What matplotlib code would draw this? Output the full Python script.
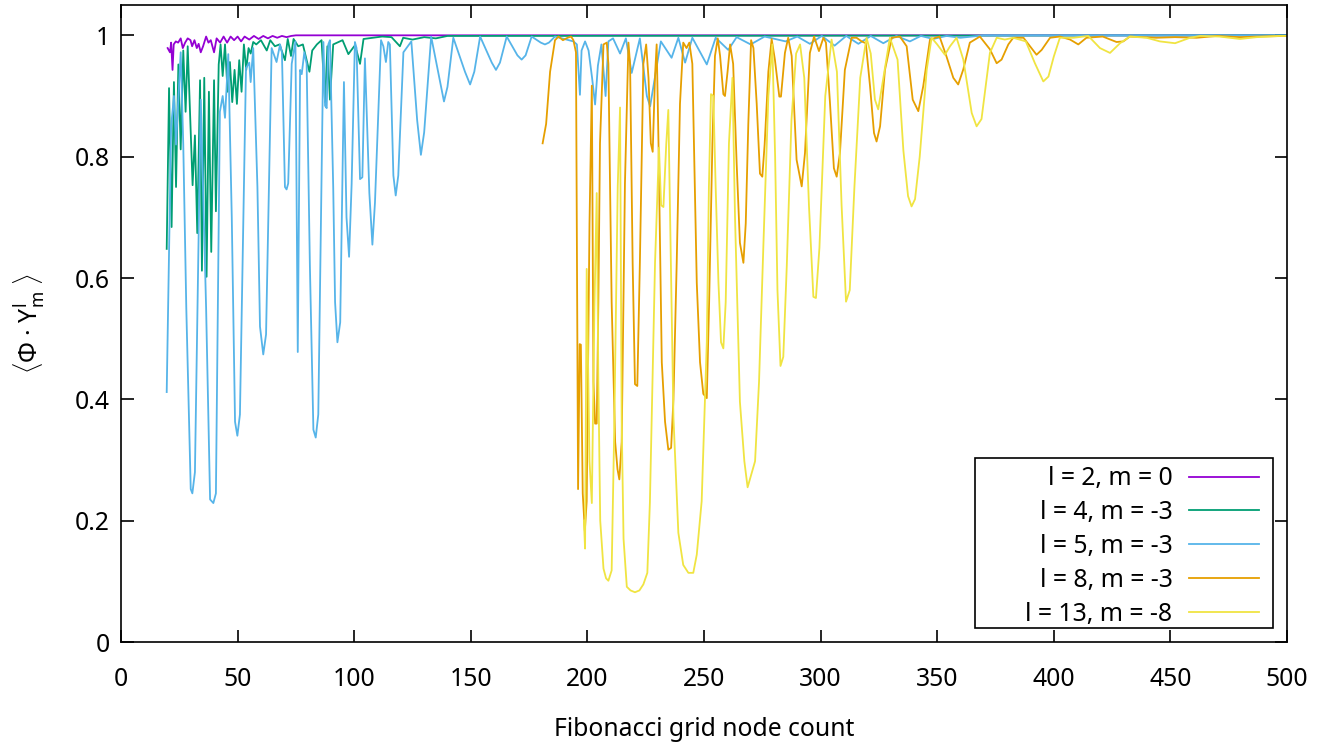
import matplotlib
matplotlib.use("Agg")
import matplotlib.pyplot as plt
from matplotlib.patches import Rectangle
import numpy as np

plt.rcParams['font.family'] = ['Noto Sans', 'DejaVu Sans']
plt.rcParams['mathtext.fontset'] = 'custom'
plt.rcParams['mathtext.rm'] = 'Noto Sans'
plt.rcParams['mathtext.fallback'] = 'cm'

# l = 2, m = 0
l2_x = [20, 21, 21.5, 22.1, 22.6, 23.5, 24.5, 25.6, 26.5, 27.5, 28.6, 29.8, 30.5, 31.5, 32.5, 33.3,
        34.2, 35.2, 36.5, 37.5, 38.5, 39.9, 41, 42.5, 44, 45.5, 47, 48.5, 50, 51.5, 53, 55, 57, 59,
        61, 63, 65, 67, 69, 71, 73, 75, 500]
l2_y = [0.979, 0.972, 0.988, 0.943, 0.985, 0.990, 0.988, 0.995, 0.979, 0.988, 0.995, 0.992, 0.982,
        0.992, 0.979, 0.986, 0.972, 0.982, 0.998, 0.988, 0.992, 0.972, 0.995, 0.988, 0.998, 0.988,
        0.998, 0.992, 0.998, 0.990, 0.998, 0.993, 0.999, 0.994, 0.999, 0.995, 0.999, 0.996, 0.999,
        0.997, 0.999, 1.0, 1.0]

# l = 4, m = -3
l4_x = [19.6, 20.6, 21.7, 22.7, 23.6, 24.6, 25.6, 26.7, 27.7, 28.6, 30.7, 31.7, 32.7, 33.9, 34.7,
        35.7, 36.7, 37.7, 38.7, 39.9, 40.7, 41.9, 42.7, 43.6, 44.6, 45.7, 46.7, 47.7, 48.7, 49.7,
        50.7, 51.7, 52.7, 53.7, 54.7, 55.6, 56.7, 58, 60, 62.5, 64, 66, 68, 70.3, 71.5, 72.9, 74,
        76, 78, 80.8, 82, 84, 86, 87.5, 88.5, 89.6, 91, 95, 97.5, 100, 101, 102.5, 104, 108, 112,
        116, 119.6, 121, 125, 130, 135, 140, 500]
l4_y = [0.648, 0.913, 0.684, 0.923, 0.750, 0.952, 0.812, 0.975, 0.874, 0.982, 0.753, 0.835, 0.674,
        0.926, 0.612, 0.930, 0.602, 0.907, 0.643, 0.926, 0.710, 0.952, 0.985, 0.933, 0.985, 0.907,
        0.956, 0.890, 0.943, 0.887, 0.959, 0.907, 0.985, 0.943, 0.979, 0.970, 0.989, 0.985, 0.992,
        0.975, 0.992, 0.982, 0.985, 0.959, 0.994, 0.966, 0.994, 0.982, 0.985, 0.940, 0.975, 0.985,
        0.992, 0.890, 0.982, 0.894, 0.985, 0.992, 0.969, 0.982, 0.975, 0.953, 0.994, 0.996, 0.998,
        0.997, 0.982, 0.996, 0.993, 0.997, 0.995, 0.999, 1.0]

# l = 5, m = -3
l5_x = [19.6, 20.5, 21.5, 22.7, 23.6, 25.6, 26.7, 28, 29.9, 30.6, 31.7, 34.2, 36.5, 38.2, 39.6,
        40.7, 42.4, 43.6, 44.6, 46, 47.5, 48.9, 49.9, 51, 53.6, 55, 55.6, 56.7, 58.5, 59.6, 61,
        62.2, 64.6, 66.7, 68.2, 69, 70.3, 71, 71.7, 73.2, 74.8, 75.8, 76.8, 77.5, 78.6, 79.6, 81,
        82.5, 83.5, 84.6, 86.8, 87.5, 88.2, 88.9, 89.6, 91, 91.8, 92.8, 94, 95.6, 96.7, 97.8, 98.9,
        100.3, 101, 102.5, 103.5, 104.6, 106.5, 107.8, 108.9, 111.5, 112.5, 113.6, 114.6, 115.3,
        116.8, 117.8, 118.9, 121.1, 124.5, 127, 128.6, 130, 133, 136.5, 138.5, 140, 142.5, 147.5,
        149.7, 151.5, 154, 159, 160.8, 162.5, 165.4, 170, 171.8, 173.5, 176.1, 180, 181.8, 183.5,
        186.1, 194, 195.5, 196.8, 197.5, 199, 200.5, 202, 203.3, 204.5, 206, 207.8, 209, 211, 214,
        216.5, 219, 222.5, 225.5, 226.9, 228.5, 231.5, 236.1, 239, 241.9, 245, 251.2, 255, 260.4,
        264, 270, 276, 285, 290, 295.4, 300.5, 306, 311, 316.2, 321.5, 326.9, 332.5, 338.3, 343,
        348.3, 354, 360, 370, 500]
l5_y = [0.412, 0.62, 0.85, 0.90, 0.82, 0.972, 0.82, 0.55, 0.252, 0.245, 0.28, 0.894, 0.55, 0.235,
        0.229, 0.245, 0.874, 0.90, 0.864, 0.969, 0.70, 0.363, 0.34, 0.375, 0.946, 0.955, 0.923,
        0.979, 0.75, 0.52, 0.474, 0.507, 0.979, 0.956, 0.985, 0.972, 0.75, 0.746, 0.756, 0.953,
        0.99, 0.478, 0.943, 0.936, 0.972, 0.953, 0.62, 0.35, 0.337, 0.375, 0.989, 0.884, 0.88,
        0.985, 0.992, 0.75, 0.56, 0.494, 0.527, 0.923, 0.70, 0.635, 0.755, 0.989, 0.979, 0.763,
        0.766, 0.962, 0.74, 0.655, 0.724, 0.992, 0.982, 0.956, 0.989, 0.985, 0.769, 0.736, 0.769,
        0.972, 0.99, 0.86, 0.803, 0.84, 0.998, 0.93, 0.891, 0.915, 0.996, 0.94, 0.919, 0.94, 0.998,
        0.955, 0.943, 0.955, 0.998, 0.967, 0.96, 0.967, 0.998, 0.988, 0.985, 0.988, 0.998, 0.99,
        0.985, 0.902, 0.975, 0.99, 0.975, 0.93, 0.886, 0.95, 0.985, 0.90, 0.99, 0.995, 0.97, 0.995,
        0.938, 0.995, 0.90, 0.883, 0.92, 0.99, 0.963, 0.996, 0.955, 0.996, 0.952, 0.996, 0.976,
        0.997, 0.985, 0.998, 0.99, 0.998, 0.986, 0.999, 0.983, 0.999, 0.986, 0.999, 0.987, 0.999,
        0.99, 0.999, 0.994, 0.999, 0.996, 1.0, 1.0]

# l = 8, m = -3
l8_x = [180.8, 182.3, 184, 186.1, 187.6, 189.5, 191.5, 193, 194, 195.1, 196, 196.7, 197.2, 198,
        198.9, 199.7, 200.9, 201.9, 202.6, 203.3, 204, 204.7, 205.4, 206.9, 208.3, 209, 210.4,
        211.9, 212.9, 213.7, 214.7, 216.1, 217.6, 218.3, 219.4, 220.4, 221.4, 222.5, 224, 225.2,
        226.2, 227.2, 228, 229, 229.7, 230.5, 231.9, 233.3, 234.7, 235.9, 236.9, 238.3, 239.7,
        241.1, 242.5, 243.7, 245, 246.9, 248.3, 249.7, 251.2, 252.2, 253.6, 254.7, 255.9, 256.9,
        258.3, 259, 260.1, 261.2, 262.5, 264, 265.4, 266.9, 267.9, 269, 270.2, 271.2, 272.6, 274,
        275, 276, 277.6, 279, 280.4, 282.3, 283, 284.7, 286.1, 287.6, 289.7, 291.9, 293.3, 295.4,
        297.2, 299.3, 301.2, 302.3, 304, 305.7, 306.9, 308.3, 310.4, 313.3, 315.4, 317.6, 319.4,
        321.2, 322.9, 324, 325.5, 327.6, 330.5, 334, 336.9, 339.5, 341.9, 344, 346.9, 351, 354,
        356.9, 359, 361.2, 364, 368.3, 372.6, 375.5, 377.6, 380.5, 382.6, 387, 389.8, 392.6,
        394.8, 398.4, 402.6, 407, 410.5, 414, 421, 426.9, 429.8, 432.6, 444, 452, 461.2, 470,
        479.8, 487, 500]
l8_y = [0.822, 0.854, 0.94, 0.992, 0.998, 0.992, 0.996, 0.998, 0.992, 0.972, 0.252, 0.491, 0.49,
        0.245, 0.183, 0.232, 0.69, 0.917, 0.429, 0.36, 0.36, 0.56, 0.822, 0.985, 0.988, 0.953,
        0.56, 0.33, 0.285, 0.268, 0.33, 0.756, 0.988, 0.953, 0.625, 0.425, 0.422, 0.625, 0.953,
        0.985, 0.93, 0.822, 0.808, 0.933, 0.985, 0.82, 0.461, 0.363, 0.317, 0.32, 0.40, 0.625,
        0.887, 0.988, 0.979, 0.988, 0.953, 0.592, 0.461, 0.409, 0.402, 0.56, 0.822, 0.966, 0.995,
        0.966, 0.903, 0.90, 0.94, 0.985, 0.953, 0.789, 0.658, 0.625, 0.69, 0.854, 0.992, 0.979,
        0.887, 0.772, 0.767, 0.82, 0.94, 0.994, 0.96, 0.899, 0.899, 0.971, 0.996, 0.966, 0.795,
        0.751, 0.806, 0.971, 0.998, 0.974, 0.996, 0.988, 0.89, 0.781, 0.767, 0.806, 0.943, 0.996,
        0.996, 0.99, 0.987, 0.916, 0.839, 0.825, 0.85, 0.943, 0.996, 0.998, 0.982, 0.894, 0.875,
        0.916, 0.993, 0.998, 0.965, 0.93, 0.919, 0.944, 0.988, 0.998, 0.977, 0.954, 0.96, 0.985,
        0.996, 0.996, 0.982, 0.968, 0.976, 0.996, 0.998, 0.993, 0.985, 0.996, 0.998, 0.989, 0.99,
        0.998, 0.996, 0.997, 0.996, 0.999, 0.997, 0.998, 0.999]

# l = 13, m = -8
l13_x = [198.5, 199, 199.7, 200.5, 200.9, 201.9, 203, 204, 204.7, 205.5, 206.9, 208, 209, 210.4,
         211.5, 213, 214, 214.7, 215.5, 216.9, 218.5, 220.4, 222.3, 224, 225.7, 226.8, 229, 230.7,
         231.6, 232.6, 233.8, 234.7, 236.9, 239, 241.1, 243.3, 245.4, 246.9, 249, 251.2, 252.1,
         253, 254, 255, 256.2, 257.3, 258.3, 259.3, 260.7, 262.2, 263.3, 265.4, 267.3, 268.7,
         270.2, 271.9, 273.6, 275.5, 277.6, 279.3, 280.5, 281.5, 282.8, 284, 285.5, 287.5, 289.5,
         291.2, 293, 295, 296.9, 298, 299.5, 302, 304.7, 307, 309, 310.9, 312.5, 314.5, 317,
         319.7, 321.5, 323.3, 324.7, 326.5, 329.7, 333, 335.5, 337.5, 339, 340.5, 342.5, 345.5,
         347.6, 350, 353.3, 355.5, 358.3, 361.2, 364.8, 366.9, 369, 372.6, 375.5, 379, 382.6, 388,
         391.9, 395.5, 397.7, 400, 402.6, 408.5, 414.8, 419.8, 424.1, 428.4, 432.6, 439.8, 445.5,
         452, 458.4, 462.7, 471, 479.8, 487, 497, 500]
l13_y = [0.20, 0.154, 0.615, 0.40, 0.298, 0.229, 0.55, 0.74, 0.43, 0.20, 0.121, 0.105, 0.101,
         0.118, 0.35, 0.75, 0.881, 0.363, 0.17, 0.091, 0.085, 0.082, 0.085, 0.095, 0.114, 0.23,
         0.625, 0.815, 0.72, 0.717, 0.82, 0.877, 0.37, 0.18, 0.127, 0.114, 0.114, 0.144, 0.232,
         0.494, 0.75, 0.903, 0.90, 0.75, 0.592, 0.494, 0.484, 0.56, 0.822, 0.93, 0.70, 0.396,
         0.298, 0.255, 0.275, 0.298, 0.429, 0.658, 0.9, 0.985, 0.80, 0.58, 0.455, 0.47, 0.62, 0.86,
         0.97, 0.985, 0.93, 0.72, 0.569, 0.567, 0.65, 0.90, 0.993, 0.94, 0.72, 0.561, 0.58, 0.75,
         0.93, 0.996, 0.97, 0.894, 0.878, 0.92, 0.996, 0.96, 0.81, 0.735, 0.718, 0.73, 0.80, 0.943,
         0.996, 0.985, 0.968, 0.982, 0.996, 0.96, 0.872, 0.85, 0.862, 0.971, 0.996, 0.993, 0.996,
         0.99, 0.954, 0.924, 0.932, 0.965, 0.996, 0.996, 0.999, 0.979, 0.971, 0.987, 0.998, 0.996,
         0.99, 0.987, 0.996, 0.999, 0.998, 0.994, 0.997, 0.999, 0.999]

labels = ["l = 2, m = 0", "l = 4, m = -3", "l = 5, m = -3", "l = 8, m = -3", "l = 13, m = -8"]
colors = ["#9400d3", "#009e73", "#56b4e9", "#e69f00", "#f0e442"]

fs = 17.8

fig = plt.figure(figsize=(13.35, 7.43), dpi=100)
ax = fig.add_axes([121 / 1335, 1 - 642 / 743, 1166 / 1335, 637 / 743])

series = [(l2_x, l2_y), (l4_x, l4_y), (l5_x, l5_y), (l8_x, l8_y), (l13_x, l13_y)]
for (xs, ys), lab, col in zip(series, labels, colors):
    ax.plot(xs, ys, color=col, linewidth=1.3, label=lab)

ax.set_xlim(0, 500)
ax.set_ylim(0, 1.05)
ax.set_xticks(np.arange(0, 501, 50))
ax.set_yticks([0, 0.2, 0.4, 0.6, 0.8, 1.0])
ax.set_yticklabels(["0", "0.2", "0.4", "0.6", "0.8", "1"])
ax.tick_params(direction="in", length=9, width=1.2, top=True, right=True,
               labelsize=fs, colors="black")
ax.tick_params(axis="x", pad=18)
ax.tick_params(axis="y", pad=8)
for s in ax.spines.values():
    s.set_linewidth(1.2)

ax.set_xlabel("Fibonacci grid node count", fontsize=fs, labelpad=18)
ax.set_ylabel(r"$\langle$Φ · Y$^{\mathrm{l}}_{\mathrm{m}}$ $\rangle$", fontsize=fs, labelpad=20)

# legend box drawn like gnuplot's key: wide frame, right-aligned labels
ax.add_patch(Rectangle((0.7324, 0.022), 0.2556, 0.2665, transform=ax.transAxes,
                       facecolor="white", edgecolor="black", linewidth=1.2, zorder=4))
leg = ax.legend(loc="upper right", bbox_to_anchor=(0.976, 0.276), borderaxespad=0,
                borderpad=0, frameon=False, markerfirst=False, fontsize=fs,
                handlelength=2.85, handletextpad=0.65, labelspacing=0.36)
leg.set_zorder(5)

fig.savefig("out.png", dpi=100)
